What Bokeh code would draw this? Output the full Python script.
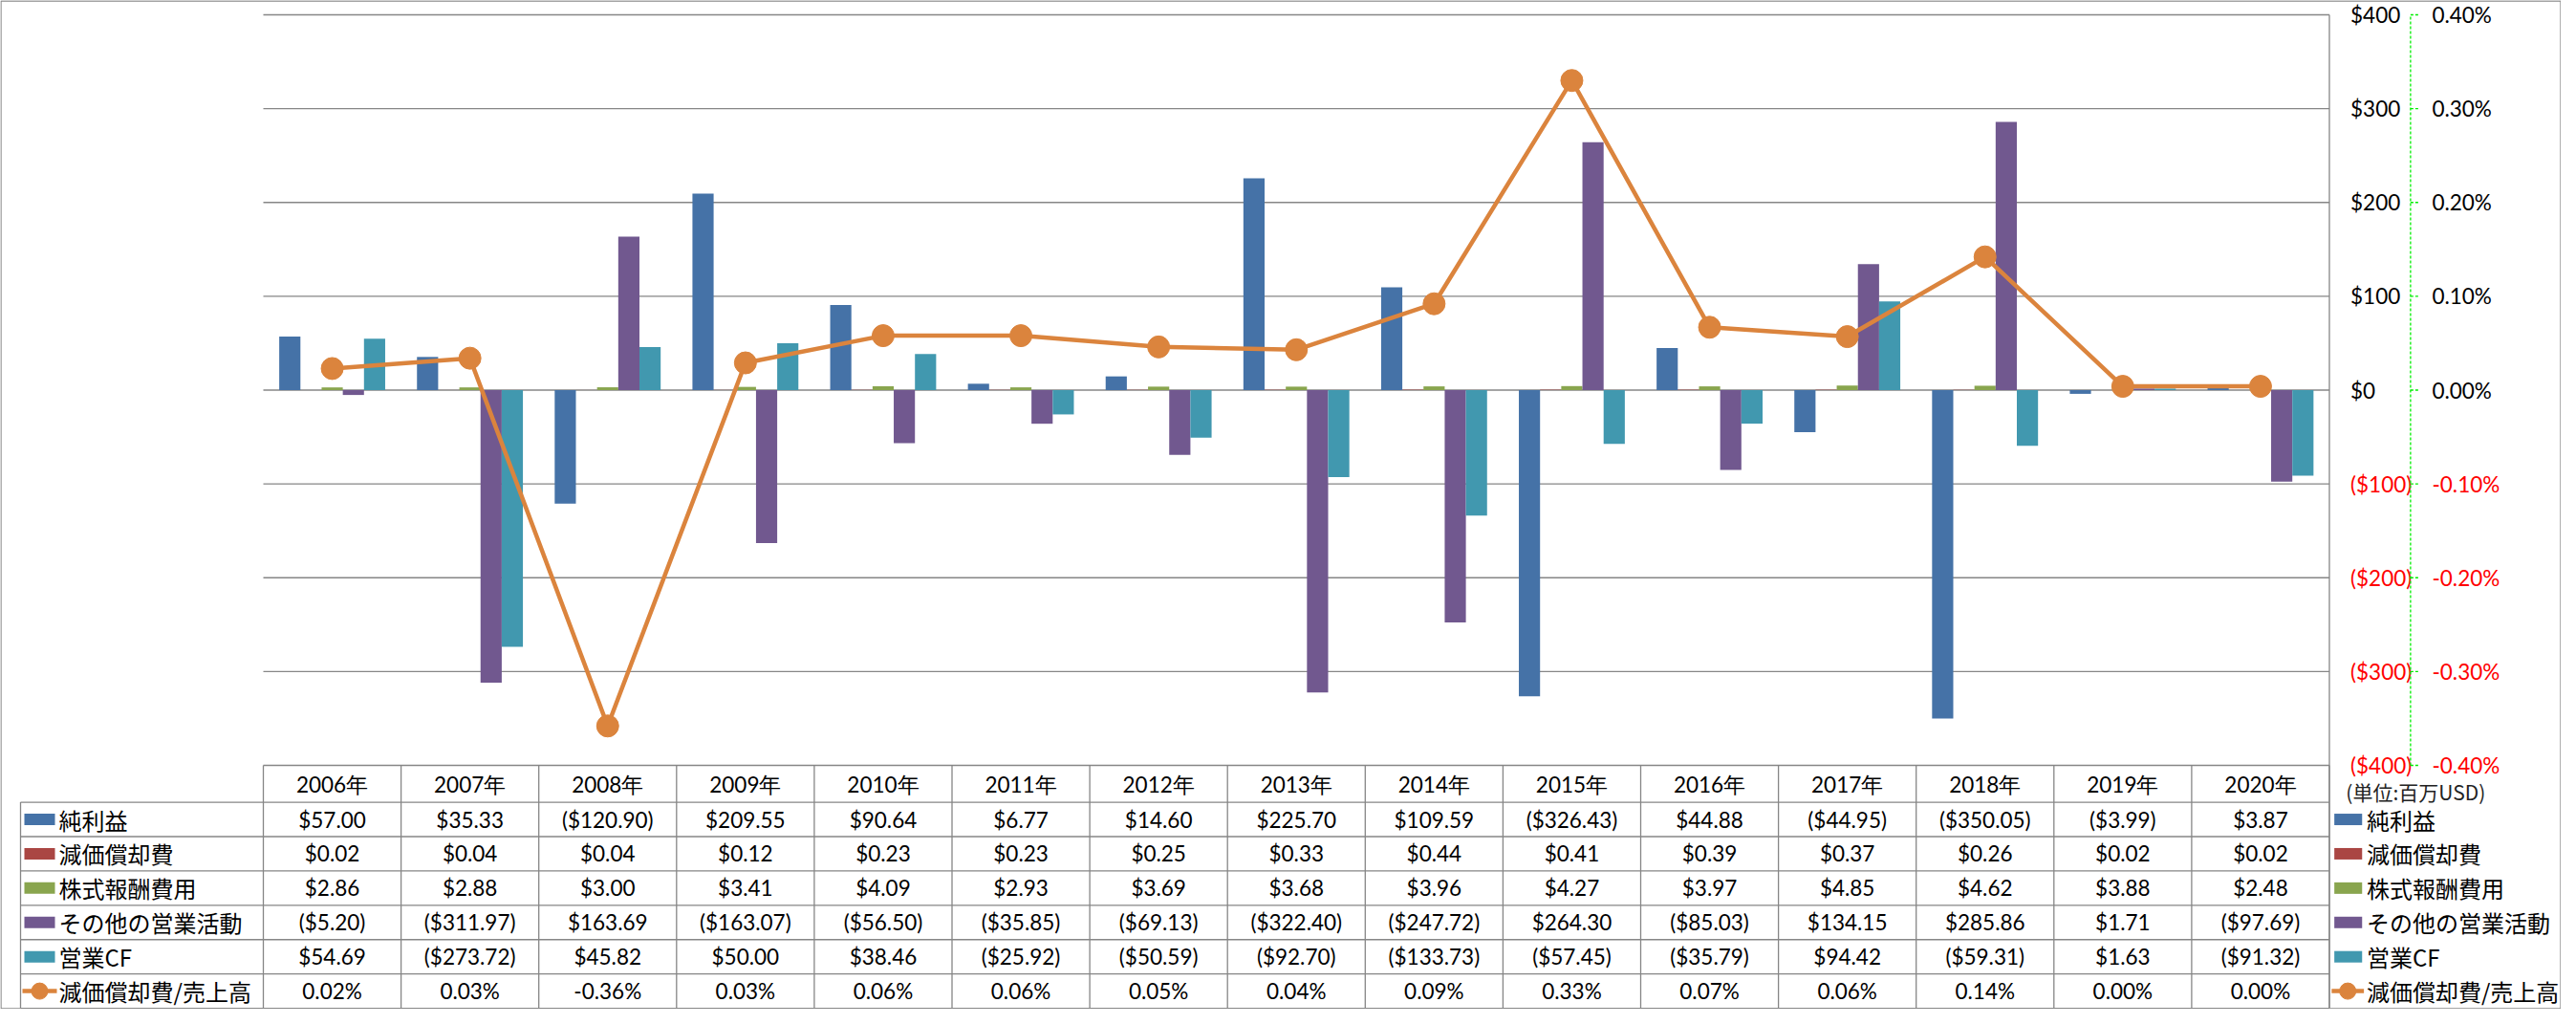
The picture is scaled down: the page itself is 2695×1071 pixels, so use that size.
import numpy as np
from bokeh.plotting import figure
from bokeh.models import Range1d, ColumnDataSource
from bokeh.core.properties import value
from bokeh.embed import file_html
from bokeh.resources import INLINE

# ---------------- data ----------------
years = ["2006年", "2007年", "2008年", "2009年", "2010年", "2011年", "2012年", "2013年",
         "2014年", "2015年", "2016年", "2017年", "2018年", "2019年", "2020年"]
series_names = ["純利益", "減価償却費", "株式報酬費用", "その他の営業活動", "営業CF"]
net_income = [57.00, 35.33, -120.90, 209.55, 90.64, 6.77, 14.60, 225.70, 109.59, -326.43,
              44.88, -44.95, -350.05, -3.99, 3.87]
depreciation = [0.02, 0.04, 0.04, 0.12, 0.23, 0.23, 0.25, 0.33, 0.44, 0.41, 0.39, 0.37,
                0.26, 0.02, 0.02]
stock_comp = [2.86, 2.88, 3.00, 3.41, 4.09, 2.93, 3.69, 3.68, 3.96, 4.27, 3.97, 4.85,
              4.62, 3.88, 2.48]
other_ops = [-5.20, -311.97, 163.69, -163.07, -56.50, -35.85, -69.13, -322.40, -247.72,
             264.30, -85.03, 134.15, 285.86, 1.71, -97.69]
operating_cf = [54.69, -273.72, 45.82, 50.00, 38.46, -25.92, -50.59, -92.70, -133.73,
                -57.45, -35.79, 94.42, -59.31, 1.63, -91.32]
line_name = "減価償却費/売上高"
dep_ratio_pct = [0.023, 0.034, -0.358, 0.029, 0.058, 0.058, 0.046, 0.043, 0.092, 0.330,
                 0.067, 0.057, 0.142, 0.004, 0.004]
usd_ticks = [400, 300, 200, 100, 0, -100, -200, -300, -400]
usd_tick_labels = ["$400", "$300", "$200", "$100", "$0", "($100)", "($200)", "($300)", "($400)"]
pct_ticks = [0.4, 0.3, 0.2, 0.1, 0.0, -0.1, -0.2, -0.3, -0.4]
pct_tick_labels = ["0.40%", "0.30%", "0.20%", "0.10%", "0.00%", "-0.10%", "-0.20%", "-0.30%", "-0.40%"]
unit_note = "(単位:百万USD)"

series_values = [net_income, depreciation, stock_comp, other_ops, operating_cf]

# ---------------- styles / layout ----------------
COLORS = ["#4572A7", "#AA4643", "#89A54E", "#71588F", "#4198AF"]
ORANGE = "#DB843D"
GRID = "#868686"
GREEN = "#00EE00"
NUM_FONT = "Lato"
JP_FONT = "Noto Sans CJK JP"
NUM_SIZE = "22.5px"
AXIS_SIZE = "22.5px"
JP_SIZE = "24px"

W, H = 2679, 1055
REF_W, REF_H = 2695, 1071
REF_PR, REF_PB = 2436.5, 800.0   # reference plot-area right / bottom edges


def X(xo):  # reference layout px -> canvas px (only the right side strip is squeezed)
    if xo <= REF_PR:
        return xo
    return REF_PR + (xo - REF_PR) * (W - REF_PR) / (REF_W - REF_PR)


def Y(yo):  # only the data-table strip is squeezed
    if yo <= REF_PB:
        return yo
    return REF_PB + (yo - REF_PB) * (H - REF_PB) / (REF_H - REF_PB)


FRAME_L, FRAME_R = X(275), X(REF_PR)
PLOT_T, PLOT_B = Y(15), Y(REF_PB)
HDR_B, TABLE_B = Y(841), Y(1070)
LEG_L = X(21)
n = len(years)
colw = (FRAME_R - FRAME_L) / n
nrows = 6
rowh = (TABLE_B - HDR_B) / nrows
VMAX = 400.0


def usd_at(px):
    return VMAX - (px - PLOT_T) * 2 * VMAX / (PLOT_B - PLOT_T)


p = figure(width=W, height=H, output_backend="svg", toolbar_location=None,
           x_axis_location=None, y_axis_location=None, min_border=0,
           x_range=Range1d(-FRAME_L / colw, (W - FRAME_L) / colw),
           y_range=Range1d(H, 0))
p.extra_x_ranges = {"px": Range1d(0, W)}
p.extra_y_ranges = {"usd": Range1d(usd_at(H), usd_at(0)),
                    "pct": Range1d(usd_at(H) / 1000.0, usd_at(0) / 1000.0)}
p.grid.visible = False
p.outline_line_color = None
p.background_fill_color = "white"
p.border_fill_color = "white"

# gridlines
p.segment(x0=0, x1=n, y0=usd_ticks, y1=usd_ticks, y_range_name="usd",
          line_color=GRID, line_width=1.3)

# bars
bw = 1 / 6.5
idx = np.arange(n) + 0.5
for k, (vals, c) in enumerate(zip(series_values, COLORS)):
    p.vbar(x=idx + (k - 2) * bw, top=vals, bottom=0, width=bw, y_range_name="usd",
           fill_color=c, line_color=None)

# line series
p.line(x=idx, y=dep_ratio_pct, y_range_name="pct", line_color=ORANGE, line_width=4.5)
p.scatter(x=idx, y=dep_ratio_pct, y_range_name="pct", size=23, fill_color=ORANGE,
          line_color=ORANGE)

# plot right border / table right border
p.segment(x0=FRAME_R, x1=FRAME_R, y0=PLOT_T, y1=TABLE_B, x_range_name="px",
          line_color=GRID, line_width=1.3)

# right axes
lab_colors = ["black" if t >= 0 else "red" for t in usd_ticks]
src_usd = ColumnDataSource(dict(y=usd_ticks, t=usd_tick_labels, c=lab_colors))
p.text(x=X(2460), y="y", text="t", text_color="c", source=src_usd, x_range_name="px",
       y_range_name="usd", text_font=value(NUM_FONT), text_font_size=value(AXIS_SIZE),
       text_align="left", text_baseline="middle")
src_pct = ColumnDataSource(dict(y=pct_ticks, t=pct_tick_labels, c=lab_colors))
p.text(x=X(2551), y="y", text="t", text_color="c", source=src_pct, x_range_name="px",
       y_range_name="pct", text_font=value(NUM_FONT), text_font_size=value(AXIS_SIZE),
       text_align="left", text_baseline="middle")
p.segment(x0=X(2527), x1=X(2527), y0=min(pct_ticks), y1=max(pct_ticks), x_range_name="px",
          y_range_name="pct", line_color=GREEN, line_width=1.3, line_dash="3 2")
p.segment(x0=X(2527), x1=X(2536), y0=pct_ticks, y1=pct_ticks, x_range_name="px",
          y_range_name="pct", line_color=GREEN, line_width=1.3, line_dash="3 2")
p.text(x=[X(2455)], y=[Y(829)], text=[unit_note], x_range_name="px", text_font=value(JP_FONT),
       text_font_size=value("21px"), text_align="left", text_baseline="middle",
       text_color="#222222")

# data table lines
xs_v = FRAME_L + np.arange(n + 1) * colw
p.segment(x0=xs_v, x1=xs_v, y0=PLOT_B, y1=TABLE_B, x_range_name="px",
          line_color=GRID, line_width=1.3)
p.segment(x0=LEG_L, x1=LEG_L, y0=HDR_B, y1=TABLE_B, x_range_name="px",
          line_color=GRID, line_width=1.3)
ys_h = HDR_B + np.arange(nrows + 1) * rowh
p.segment(x0=LEG_L, x1=FRAME_R, y0=ys_h, y1=ys_h, x_range_name="px",
          line_color=GRID, line_width=1.3)

# header years
p.text(x=idx, y=(PLOT_B + HDR_B) / 2 + 1, text=years, text_font=value(NUM_FONT),
       text_font_size=value(NUM_SIZE), text_align="center", text_baseline="middle")


def fmt_usd(v):
    return f"${v:,.2f}" if v >= 0 else f"(${abs(v):,.2f})"


row_texts = [[fmt_usd(v) for v in vals] for vals in series_values]
row_texts.append([f"{v:.2f}%" for v in dep_ratio_pct])
row_labels = series_names + [line_name]
for r, texts in enumerate(row_texts):
    yc = HDR_B + (r + 0.5) * rowh
    p.text(x=idx, y=yc, text=texts, text_font=value(NUM_FONT), text_font_size=value(NUM_SIZE),
           text_align="center", text_baseline="middle")

# legends (left column of the table and right side)
row_centers = HDR_B + (np.arange(nrows) + 0.5) * rowh
for (pl, pr, tx, lk0, lk1, lkc) in [(X(25), X(57), X(61), X(23), X(59), X(41)),
                                    (X(2442), X(2473), X(2478), X(2439), X(2475), X(2457))]:
    p.quad(left=pl, right=pr, top=row_centers[:5] - 6, bottom=row_centers[:5] + 6,
           x_range_name="px", fill_color=COLORS, line_color=None)
    p.segment(x0=lk0, x1=lk1, y0=row_centers[5], y1=row_centers[5], x_range_name="px",
              line_color=ORANGE, line_width=4.5)
    p.scatter(x=[lkc], y=[row_centers[5]], x_range_name="px", size=17,
              fill_color=ORANGE, line_color=ORANGE)
    p.text(x=tx, y=row_centers, text=row_labels, x_range_name="px", text_font=value(JP_FONT),
           text_font_size=value(JP_SIZE), text_align="left", text_baseline="middle")

# outer chart border
p.quad(left=0.5, right=W - 0.5, top=0.5, bottom=H - 0.5, x_range_name="px",
       fill_color=None, line_color=GRID, line_width=1.3)

open("out.html", "w").write(file_html(p, INLINE))
